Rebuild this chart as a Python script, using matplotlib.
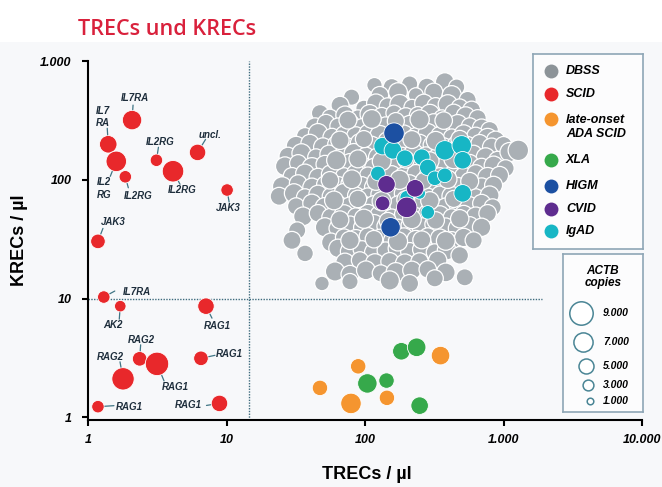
import matplotlib.pyplot as plt
from matplotlib.patches import Rectangle
from matplotlib.ticker import NullLocator

plt.rcParams['font.family'] = ['Liberation Sans', 'DejaVu Sans']

# ---- data (TRECs/µl, KRECs/µl, ACTB copies) ----
scid_trec = [2.08, 1.40, 1.60, 1.86, 3.12, 4.11, 6.18, 10.1, 1.18,
             1.30, 1.71, 7.11, 2.36, 3.15, 1.79, 6.54, 1.18, 8.90]
scid_krec = [318, 199, 143, 106, 146, 118, 170, 82, 30.3,
             10.3, 8.63, 8.63, 3.11, 2.82, 2.11, 3.14, 1.23, 1.31]
scid_actb = [7100, 6200, 7600, 3800, 3800, 8100, 5700, 3800, 4800,
             3800, 3350, 5700, 4800, 9000, 8500, 4800, 3800, 5700]
scid_gene = ['IL7RA', 'IL7\nRA', 'IL2\nRG', 'IL2RG', 'IL2RG', 'IL2RG', 'uncl.', 'JAK3', 'JAK3',
             'IL7RA', 'AK2', 'RAG1', 'RAG2', 'RAG1', 'RAG2', 'RAG1', 'RAG1', 'RAG1']

ada_trec = [47.3, 89.3, 79.2, 144, 351]
ada_krec = [1.77, 2.69, 1.31, 1.46, 3.31]
ada_actb = [5200, 5200, 7600, 5200, 6700]

xla_trec = [183, 236, 104, 143, 248]
xla_krec = [3.60, 3.89, 1.93, 2.04, 1.255]
xla_actb = [6200, 6700, 7100, 5200, 6200]

higm_trec = [162, 153]
higm_krec = [247, 39.8]
higm_actb = [7600, 7100]

cvid_trec = [143, 230, 134, 200]
cvid_krec = [91.6, 84.8, 63.4, 58.6]
cvid_actb = [6200, 6200, 4800, 7600]

igad_trec = [134, 159, 194, 257, 284, 377, 499, 507, 319, 377, 124, 507, 284, 200, 248]
igad_krec = [192, 177, 152, 155, 127, 177, 195, 146, 103, 109, 113, 76.9, 53.2, 71.2, 76.9]
igad_actb = [6200, 6200, 5700, 5700, 5700, 7100, 7100, 6200, 4800, 4800, 4800, 6200, 4300, 4300, 3400]

dbss_trec = [
    117, 156, 210, 280, 377, 459,
    80, 128, 173, 233, 314, 423, 551,
    66, 98.2, 120, 146, 178, 218, 266, 324, 396, 483, 589,
    47.3, 55.9, 71.7, 88.9, 108, 132, 162, 197, 241, 294, 359, 437, 533, 651,
    43.5, 52.3, 63.8, 77.9, 95, 116, 141, 173, 210, 257, 314, 383, 467, 570, 695, 794,
    36.9, 45.8, 57.7, 70.5, 86, 105, 128, 156, 191, 233, 284, 347, 423, 516, 630, 768, 877,
    31.8, 40, 49.7, 62, 75.3, 91.9, 112, 137, 167, 204, 248, 303, 370, 452, 551, 673, 821, 1000,
    27.8, 34.8, 44.3, 55, 68.2, 83.2, 101.5, 124, 151, 184, 225, 275, 335, 409, 499, 609, 743, 907, 1106, 1280,
    26.4, 32.9, 41.4, 51.4, 63.8, 77.9, 95, 116, 141, 173, 210, 257, 314, 383, 467, 570, 695, 848, 1036,
    29.7, 36.9, 45.8, 56.8, 70.5, 86, 105, 128, 156, 191, 233, 284, 347, 423, 516, 630, 768, 937,
    25.2, 32.9, 41.4, 51.4, 63.8, 77.9, 95, 116, 141, 173, 210, 257, 314, 383, 467, 570, 695, 848,
    24, 30.7, 36.9, 45.8, 56.8, 70.5, 86, 105, 128, 156, 191, 233, 284, 347, 423, 516, 630, 794,
    31.8, 41.4, 51.4, 63.8, 77.9, 95, 116, 141, 173, 210, 257, 314, 383, 467, 570, 695, 835,
    35.7, 45.8, 56.8, 70.5, 86, 105, 128, 156, 191, 233, 284, 347, 423, 516, 630, 768,
    32.4, 51.4, 63.8, 77.9, 95, 116, 141, 173, 210, 257, 314, 383, 467, 570, 695,
    29.7, 56.8, 70.5, 86, 105, 128, 156, 191, 233, 284, 347, 423, 516, 609,
    36.9, 63.8, 77.9, 95, 116, 141, 173, 210, 257, 319, 389, 483,
    71.7, 91.9, 118, 151, 194, 248, 335,
    60.7, 77.9, 101.5, 130, 167, 218, 284, 383, 525,
    48.9, 77.9, 151, 210, 319,
    # dense core
    75.3, 112, 167, 248, 370,
    65.9, 98.2, 146, 218, 324, 483,
    62, 88.9, 132, 197, 294, 437,
    55.9, 80.5, 120, 178, 266, 396, 570,
    59.7, 88.9, 132, 197, 294, 437,
    65.9, 98.2, 146, 218, 324, 483,
    77.9, 116, 173, 257, 383,
]
dbss_krec = [
    626, 603, 640, 603, 664, 603,
    496, 515, 547, 515, 547, 515, 470,
    424, 400, 440, 415, 432, 408, 440, 415, 432, 408, 386,
    364, 337, 350, 330, 357, 343, 364, 337, 350, 357, 330, 364, 343, 330,
    277, 300, 283, 294, 277, 300, 288, 272, 294, 283, 300, 277, 294, 283, 272, 261,
    233, 247, 228, 242, 233, 247, 237, 228, 242, 233, 247, 237, 228, 242, 233, 224, 215,
    192, 203, 188, 199, 192, 203, 196, 188, 199, 192, 203, 196, 188, 199, 192, 203, 188, 196,
    158, 167, 155, 164, 158, 167, 161, 155, 164, 158, 167, 161, 155, 164, 158, 167, 155, 146, 171, 177,
    130, 138, 127, 135, 130, 138, 132, 127, 135, 130, 138, 132, 127, 135, 130, 138, 127, 132, 125,
    107, 113, 105, 111, 107, 113, 109, 105, 111, 107, 113, 109, 105, 111, 107, 113, 105, 109,
    88, 93, 86.5, 91.6, 88, 93, 90, 86.5, 91.6, 88, 93, 90, 86.5, 91.6, 88, 93, 86.5, 90,
    72.6, 76.9, 71.2, 75.4, 72.6, 76.9, 74, 71.2, 75.4, 72.6, 76.9, 74, 71.2, 75.4, 72.6, 76.9, 71.2, 74,
    59.8, 63.4, 58.6, 62.1, 59.8, 63.4, 61, 58.6, 62.1, 59.8, 63.4, 61, 58.6, 62.1, 59.8, 63.4, 58.6,
    49.2, 52.2, 48.3, 51.2, 49.2, 52.2, 50.2, 48.3, 51.2, 49.2, 52.2, 50.2, 48.3, 51.2, 49.2, 52.2,
    37.5, 39.8, 39, 41.3, 39.8, 42.2, 40.6, 39, 41.3, 39.8, 42.2, 40.6, 39, 41.3, 39.8,
    30.9, 29.7, 32.7, 31.5, 33.4, 32.1, 30.9, 32.7, 31.5, 33.4, 32.1, 30.9, 32.7, 30.9,
    24, 26.5, 24.9, 25.9, 24.5, 25.4, 26.5, 24.9, 25.9, 24.5, 25.4, 23.1,
    20.2, 21, 19.8, 20.5, 19.8, 20.5, 21,
    16.9, 16, 17.3, 16.3, 16.6, 17.3, 17.6, 16.6, 15.1,
    13.4, 13.9, 14.2, 13.4, 14.8,
    # dense core
    318, 325, 312, 322, 315,
    215, 220, 211, 218, 213, 220,
    146, 150, 143, 148, 144, 150,
    99, 101, 97, 100, 98, 101, 97,
    67, 69, 66, 68, 66.5, 69,
    46, 47, 45, 46.5, 45.5, 47,
    30.9, 31.6, 30.3, 31.2, 30.6,
]
dbss_actb = [
    5200, 6000, 5600, 6400, 6800, 5600,
    5600, 6200, 6800, 5000, 6400, 7000, 6000,
    6400, 5600, 6800, 6000, 7200, 5400, 6600, 6200, 7000, 5800, 6400,
    6000, 5400, 6600, 5800, 7000, 6200, 5600, 6800, 6000, 7200, 5800, 6400, 6800, 6000,
    6800, 6200, 5600, 7000, 6000, 6600, 5800, 7200, 6200, 5600, 6800, 6400, 7000, 5800, 6600, 6200,
    6000, 7000, 6400, 5800, 6800, 6200, 7200, 5600, 6600, 6000, 7000, 6200, 5800, 6800, 6400, 7200, 6600,
    7200, 6400, 6800, 6000, 5600, 7000, 6200, 6600, 5800, 7200, 6400, 6000, 6800, 5600, 7000, 6200, 6600, 6000,
    6400, 7000, 5800, 6600, 6200, 7200, 5600, 6800, 6000, 6400, 7000, 5800, 6600, 6200, 7200, 5600, 6800, 6400, 7000, 7600,
    6800, 6000, 7200, 6400, 5800, 7000, 6200, 6600, 6000, 6800, 5600, 7200, 6400, 6000, 7000, 6200, 6600, 6800, 6000,
    6200, 6800, 6400, 7000, 6000, 6600, 5800, 7200, 6200, 6800, 6400, 6000, 7000, 5600, 6600, 6200, 7200, 6400,
    7000, 6200, 6600, 5800, 7200, 6400, 6000, 6800, 5600, 7000, 6200, 6600, 6000, 7200, 6400, 5800, 6800, 6400,
    6400, 7000, 6000, 6600, 6200, 7200, 5800, 6800, 6400, 6000, 7000, 6200, 6600, 5800, 7200, 6400, 6000, 6800,
    6000, 6600, 7200, 6200, 6800, 5800, 7000, 6400, 6000, 6600, 7200, 5600, 6800, 6200, 7000, 6400, 6000,
    6800, 6200, 6600, 7000, 6000, 6400, 7200, 5800, 6800, 6200, 6600, 7000, 6000, 6400, 6800, 6200,
    6000, 7000, 6400, 6800, 5800, 7200, 6200, 6600, 6000, 7000, 6400, 5800, 6800, 6200, 6600,
    6400, 6800, 6000, 7200, 6200, 6600, 5800, 7000, 6400, 6000, 6800, 6200, 6600, 6000,
    5800, 6600, 7000, 6200, 6800, 6000, 7200, 6400, 6600, 6000, 6800, 6200,
    6600, 6000, 7000, 6400, 6800, 6200, 6600,
    7000, 6400, 6800, 6000, 7200, 6600, 6200, 6800, 6000,
    4800, 5600, 7000, 6400, 6000,
    6400, 6800, 6000, 7000, 6200,
    6600, 6000, 7000, 6400, 6800, 6200,
    7000, 6400, 6800, 6000, 6600, 7200,
    6200, 6800, 6400, 7000, 6000, 6600, 6400,
    6800, 6200, 7000, 6400, 6600, 6000,
    6400, 7000, 6000, 6800, 6200, 6600,
    6600, 6200, 7000, 6400, 6800,
]

trec_cutoff = 14.5
krec_cutoff = 10
legend_sizes = [9000, 7000, 5000, 3000, 1000]
legend_size_labels = ['9.000', '7.000', '5.000', '3.000', '1.000']

groups = ['DBSS', 'SCID', 'late-onset\nADA SCID', 'XLA', 'HIGM', 'CVID', 'IgAD']
colors = ['#8c9398', '#e8282b', '#f5952f', '#36a94b', '#1c50a2', '#5e2c8f', '#17b6c5']
grey_fill = '#aab0b5'

# label offsets in pixels (text centre, connector outer end)
text_off = [(3, 22), (-5, 27), (-12, -27), (13, -19), (4, 18), (9, -19), (12, 17), (1, -18), (15, 19),
            (33, 5), (-7, -19), (11, -20), (2, 19), (18, -23), (-13, 22), (28, 4), (31, 0), (-31, -2)]
conn_off = [(1, 15), (-1, 16), (-6, -15), (3, -11), (2, 13), (7, -13), (8, 13), (2, -12), (5, 13),
            (11, 6), (-1, -13), (6, -12), (1, 14), (7, -17), (-3, 17), (14, 3), (16, 1), (-13, -2)]


def diam_px(copies):
    return 4.5 + 0.0021 * copies


def area(copies):
    return [(diam_px(c) * 0.72) ** 2 for c in copies]


fig = plt.figure(figsize=(6.62, 4.87), dpi=100)
fig.patch.set_facecolor('#f7f8fa')
fig.add_artist(Rectangle((0, 1 - 42 / 487), 1, 42 / 487, transform=fig.transFigure,
                         facecolor='white', edgecolor='none', zorder=-1))
fig.text(78 / 662, 1 - 35 / 487, 'TRECs und KRECs', color='#d9213c', fontsize=15.6,
         fontweight='semibold', family='Open Sans', va='baseline')

ax = fig.add_axes([88 / 662, 1 - 420 / 487, 554 / 662, 359 / 487])
ax.set_facecolor('none')
ax.set_xscale('log')
ax.set_yscale('log')
ax.set_xlim(1, 10000)
ax.set_ylim(0.95, 1000)
ax.set_xticks([1, 10, 100, 1000, 10000])
ax.set_xticklabels(['1', '10', '100', '1.000', '10.000'])
ax.set_yticks([1, 10, 100, 1000])
ax.set_yticklabels(['1', '10', '100', '1.000'])
ax.xaxis.set_minor_locator(NullLocator())
ax.yaxis.set_minor_locator(NullLocator())
ax.tick_params(direction='out', length=4, width=1.5, labelsize=9)
ax.tick_params(axis='x', pad=6)
ax.tick_params(axis='y', pad=8)
for lab in ax.get_xticklabels() + ax.get_yticklabels():
    lab.set_fontweight('bold')
    lab.set_fontstyle('italic')
for s in ['top', 'right']:
    ax.spines[s].set_visible(False)
for s in ['left', 'bottom']:
    ax.spines[s].set_linewidth(1.5)

ax.set_ylabel('KRECs / µl', fontsize=13, fontweight='bold')
ax.yaxis.set_label_coords(-0.108, 0.5)
ax.set_xlabel('TRECs / µl', fontsize=13, fontweight='bold')
ax.xaxis.set_label_coords(0.504, -0.128)

ax.axvline(trec_cutoff, color='#3d6b7d', lw=1, ls=(0, (1, 1)), zorder=1)
ax.hlines(krec_cutoff, 1, 1900, color='#3d6b7d', lw=1, ls=(0, (1, 1)), zorder=1)

ax.scatter(dbss_trec, dbss_krec, s=area(dbss_actb), c=grey_fill, edgecolors='white', linewidths=0.9, zorder=2)
ax.scatter(igad_trec, igad_krec, s=area(igad_actb), c=colors[6], edgecolors='white', linewidths=0.6, zorder=3)
ax.scatter(cvid_trec, cvid_krec, s=area(cvid_actb), c=colors[5], edgecolors='white', linewidths=0.6, zorder=4)
ax.scatter(higm_trec, higm_krec, s=area(higm_actb), c=colors[4], edgecolors='white', linewidths=0.6, zorder=4)
ax.scatter(ada_trec, ada_krec, s=area(ada_actb), c=colors[2], edgecolors='white', linewidths=0.6, zorder=3)
ax.scatter(xla_trec, xla_krec, s=area(xla_actb), c=colors[3], edgecolors='white', linewidths=0.6, zorder=3)
ax.scatter(scid_trec, scid_krec, s=area(scid_actb), c=colors[1], edgecolors='white', linewidths=0.6, zorder=3)

for x, y, c, g, t, k in zip(scid_trec, scid_krec, scid_actb, scid_gene, text_off, conn_off):
    ax.annotate(g, (x, y), xytext=t, textcoords='offset pixels', ha='center', va='center',
                fontsize=7, fontweight='bold', fontstyle='italic', color='#1e2e3c', linespacing=1.3)
    ax.annotate('', (x, y), xytext=k, textcoords='offset pixels',
                arrowprops=dict(arrowstyle='-', color='#3f7585', lw=0.9, shrinkA=0,
                                shrinkB=diam_px(c) * 0.36 + 0.5))

# group legend
lax = fig.add_axes([533 / 662, 1 - 249 / 487, 110 / 662, 195 / 487])
lax.set_xlim(0, 110)
lax.set_ylim(195, 0)
lax.set_xticks([])
lax.set_yticks([])
lax.set_facecolor('#fcfcfd')
for sp in lax.spines.values():
    sp.set_edgecolor('#8ea6b6')
    sp.set_linewidth(1.2)
marker_y = [17, 40, 65, 106, 132, 155, 177]
text_y = [17, 40, 73, 106, 132, 155, 177]
for g, col, my, ty in zip(groups, colors, marker_y, text_y):
    lax.plot(18, my, 'o', ms=10, color=col, mec='none')
    lax.text(33, ty, g, fontsize=9, fontweight='bold', fontstyle='italic', va='center', ha='left',
             linespacing=1.25)

# size legend
sax = fig.add_axes([563 / 662, 1 - 412 / 487, 80 / 662, 158 / 487])
sax.set_xlim(0, 80)
sax.set_ylim(158, 0)
sax.set_xticks([])
sax.set_yticks([])
sax.set_facecolor('#fcfcfd')
for sp in sax.spines.values():
    sp.set_edgecolor('#8ea6b6')
    sp.set_linewidth(1.2)
sax.text(40, 23, 'ACTB\ncopies', fontsize=8.5, fontweight='bold', fontstyle='italic',
         ha='center', va='center', linespacing=1.1)
size_y = [59, 88, 112, 131, 147]
for c, lab, yy in zip(legend_sizes, legend_size_labels, size_y):
    sax.scatter(30 - diam_px(c) / 2, yy, s=area([c]), facecolors='white', edgecolors='#4a8595', linewidths=1.1)
    sax.text(40, yy, lab, fontsize=7.5, fontweight='bold', fontstyle='italic', va='center', ha='left')

fig.savefig('out.png', dpi=100, facecolor=fig.get_facecolor())
